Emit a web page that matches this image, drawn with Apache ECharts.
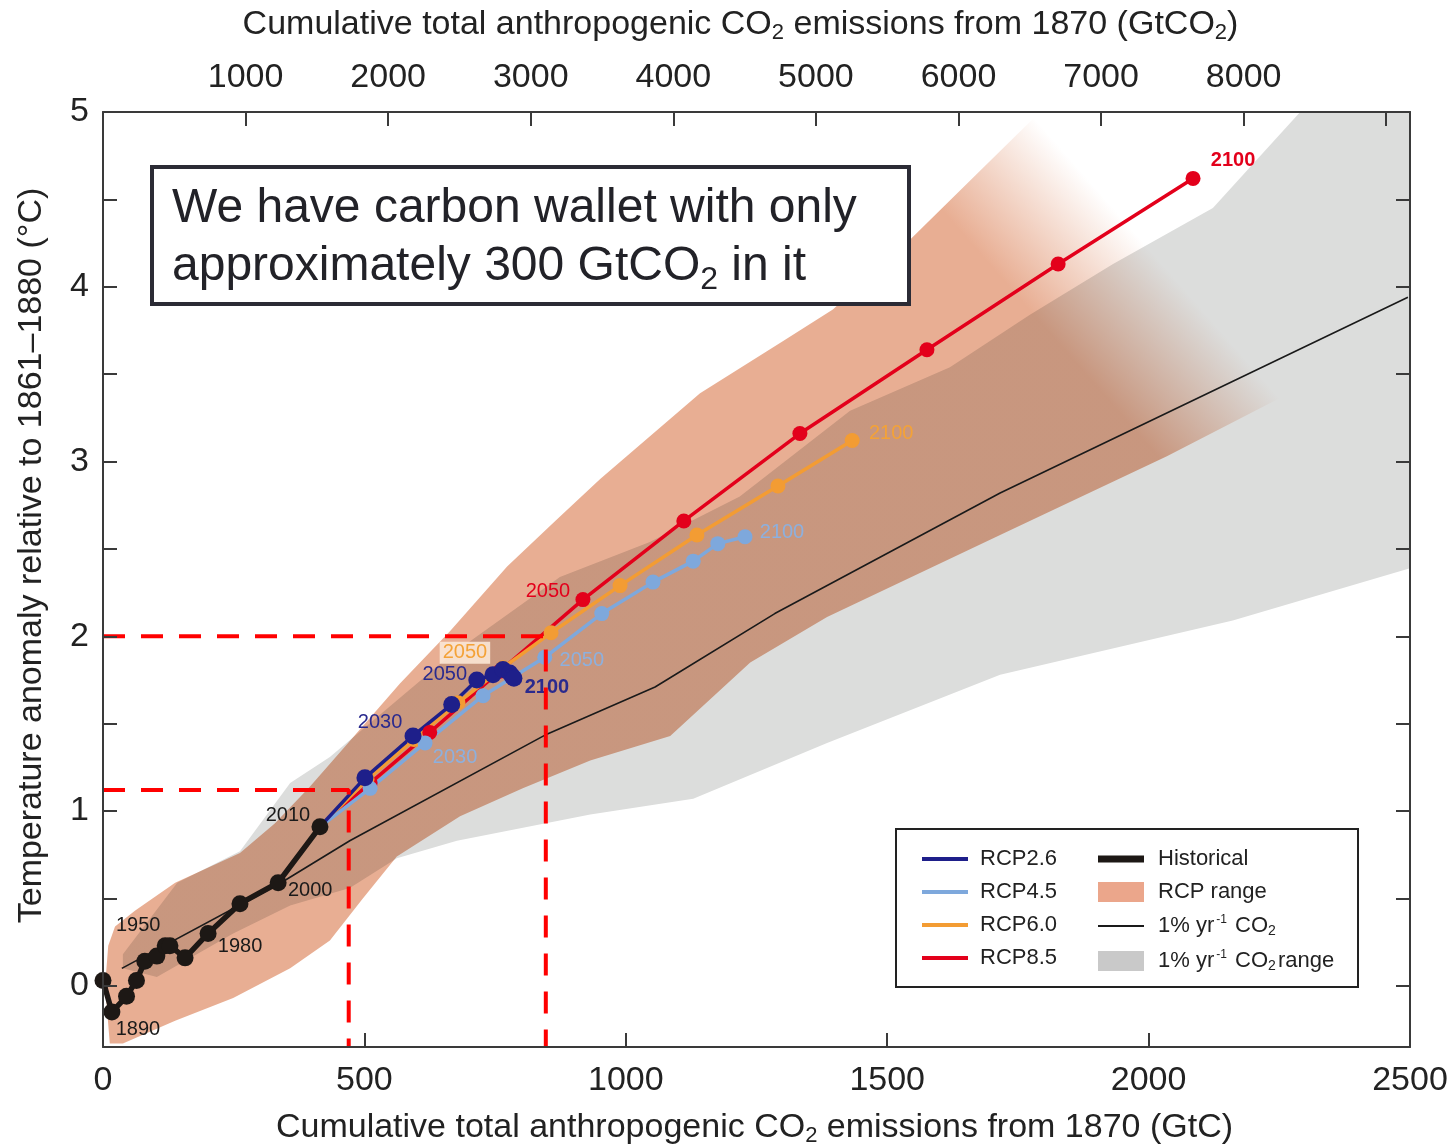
<!DOCTYPE html>
<html>
<head>
<meta charset="utf-8">
<script src="https://cdn.jsdelivr.net/npm/echarts@6/dist/echarts.min.js"></script>
<style>
  html, body { margin: 0; padding: 0; background: #fff; }
  #chart { width: 1449px; height: 1148px; }
</style>
</head>
<body>
<div id="chart"></div>
<script>
// ---- Axes ----
const gtcMin = 0, gtcMax = 2500, gtcStep = 500;
const tempMin = -0.35, tempMax = 5;
const gtco2PerGtc = 44 / 12;
const gtco2Labels = [1000, 2000, 3000, 4000, 5000, 6000, 7000, 8000];

// ---- Historical record (cumulative GtC, °C), decadal ----
const histX = [0, 17, 45, 64, 80, 103, 119, 128, 157, 201, 262, 335, 415];
const histY = [0.03, -0.15, -0.06, 0.03, 0.14, 0.17, 0.23, 0.23, 0.16, 0.30, 0.47, 0.59, 0.91];
const histLabels = ['', '1890', '', '', '', '', '1950', '', '', '1980', '', '2000', '2010'];

// ---- RCP scenarios, decadal 2020..2100 ----
const rcpYears = [2020, 2030, 2040, 2050, 2060, 2070, 2080, 2090, 2100];
const rcp26X = [501, 593, 667, 715, 746, 765, 778, 783, 786];
const rcp26Y = [1.19, 1.43, 1.61, 1.75, 1.78, 1.81, 1.79, 1.77, 1.76];
const rcp45X = [511, 616, 727, 845, 954, 1052, 1129, 1176, 1228];
const rcp45Y = [1.13, 1.39, 1.66, 1.88, 2.13, 2.31, 2.43, 2.53, 2.57];
const rcp60X = [505, 595, 679, 765, 857, 989, 1136, 1291, 1433];
const rcp60Y = [1.18, 1.41, 1.62, 1.82, 2.02, 2.29, 2.58, 2.86, 3.12];
const rcp85X = [511, 625, 759, 918, 1111, 1333, 1576, 1827, 2085];
const rcp85Y = [1.16, 1.45, 1.80, 2.21, 2.66, 3.16, 3.64, 4.13, 4.62];
const rcp26Years = [2030, 2050, 2100];
const rcp45Years = [2030, 2050, 2100];
const rcp60Years = [2050, 2100];
const rcp85Years = [2050, 2100];

// ---- 1% per year CO2 idealised runs ----
const pctX = [36, 335, 472, 849, 1056, 1285, 1716, 2496];
const pctY = [0.10, 0.58, 0.83, 1.44, 1.71, 2.13, 2.82, 3.94];

// ---- RCP range envelope ----
const rcpUpX = [13, 4, 10, 23, 61, 138, 262, 329, 396, 463, 568, 664, 773, 865, 951, 1142, 1301, 1396, 1544, 1792, 2150, 2480];
const rcpUpY = [-0.33, 0.0, 0.23, 0.34, 0.43, 0.59, 0.76, 0.93, 1.14, 1.37, 1.73, 2.03, 2.40, 2.66, 2.90, 3.39, 3.69, 3.87, 4.27, 5.0, 5.0, 3.9];
const rcpLoX = [38, 138, 249, 358, 434, 497, 562, 683, 803, 932, 1085, 1238, 1385, 1716, 2035, 2424];
const rcpLoY = [-0.33, -0.20, -0.07, 0.10, 0.26, 0.50, 0.74, 0.97, 1.13, 1.29, 1.43, 1.85, 2.11, 2.58, 3.03, 3.63];

// ---- 1% per year CO2 range envelope ----
const pctUpX = [38, 142, 262, 358, 434, 664, 874, 1046, 1218, 1429, 1620, 1773, 1932, 2123, 2290, 2500];
const pctUpY = [0.18, 0.59, 0.77, 1.16, 1.31, 1.89, 2.34, 2.54, 2.80, 3.29, 3.54, 3.84, 4.13, 4.45, 5.0, 5.0];
const pctLoX = [38, 103, 249, 358, 472, 562, 677, 932, 1129, 1385, 1716, 2161, 2500];
const pctLoY = [0.10, 0.05, 0.30, 0.46, 0.56, 0.73, 0.83, 0.98, 1.07, 1.39, 1.78, 2.09, 2.39];

// ---- Remaining budget guides ----
const nowWarming = 1.12, nowEmissions = 470;
const limitWarming = 2.0, limitEmissions = 847;

// ---- Styling ----
const FONT_N = "'Liberation Sans',Arial,sans-serif";
const FONT = "'Liberation Sans',Arial,sans-serif";
const INK = '#222222';
const C26 = '#1e1f8a', C45 = '#7ea8dc', C60 = '#f39c33', C85 = '#e3001b', CHIST = '#1d1815';
const SALMON = '#e8ae93', GREY = '#dcdddc';

const labelPlace = {
  hist: { '1890': [26, 17], '1950': [-27, -20], '1980': [32, 13], '2000': [32, 8], '2010': [-32, -11] },
  'RCP2.6': { 2030: [-33, -13], 2050: [-32, -6], 2100: [33, 9] },
  'RCP4.5': { 2030: [30, 15], 2050: [37, 3], 2100: [37, -4] },
  'RCP6.0': { 2050: [-38, -15], 2100: [39, -7] },
  'RCP8.5': { 2050: [-35, -8], 2100: [40, -18] }
};
const labelColor = { 'RCP2.6': '#2a2a8e', 'RCP4.5': '#8db0de', 'RCP6.0': '#f4a237', 'RCP8.5': '#e3001b' };
const boldLabel = { 'RCP2.6': { 2100: true }, 'RCP8.5': { 2100: true } };

function pointLabel(text, off, color, bold, extra) {
  return Object.assign({
    show: true, position: 'inside', formatter: text, offset: off,
    color: color, fontFamily: FONT_N, fontSize: 20, fontWeight: bold ? 'bold' : 'normal',
    align: 'center', verticalAlign: 'middle'
  }, extra || {});
}

function rcpSeries(name, color, xs, ys, labelled, size, z) {
  const start = { value: [histX[histX.length - 1], histY[histY.length - 1]], symbol: 'none' };
  const data = [start];
  xs.forEach(function (x, i) {
    const item = { value: [x, ys[i]] };
    const yr = rcpYears[i];
    if (labelled.indexOf(yr) >= 0) {
      const extra = (name === 'RCP6.0' && yr === 2050)
        ? { backgroundColor: 'rgba(251,231,214,0.9)', padding: [1, 3] } : null;
      item.label = pointLabel(String(yr), labelPlace[name][yr], labelColor[name],
        !!(boldLabel[name] && boldLabel[name][yr]), extra);
    }
    data.push(item);
  });
  return {
    type: 'line', name: name, data: data, z: z,
    symbol: 'circle', symbolSize: size, showAllSymbol: true,
    lineStyle: { color: color, width: 3.5 }, itemStyle: { color: color, borderWidth: 0 },
    label: { show: false }, emphasis: { disabled: true }, silent: true
  };
}

function ring(upX, upY, loX, loY) {
  const pts = upX.map(function (x, i) { return [x, upY[i]]; });
  for (let i = loX.length - 1; i >= 0; i--) pts.push([loX[i], loY[i]]);
  return pts;
}

function bandSeries(name, pts, color, z, blend, fade) {
  return {
    type: 'custom', name: name, z: z, silent: true, blendMode: blend,
    itemStyle: { color: color },
    data: [[pts[0][0], pts[0][1]]],
    encode: { x: 0, y: 1 },
    renderItem: function (params, api) {
      const screen = pts.map(function (p) { return api.coord(p); });
      let fill = color;
      if (fade) {
        const a = api.coord(fade[0]), b = api.coord(fade[1]);
        fill = new echarts.graphic.LinearGradient(a[0], a[1], b[0], b[1], [
          { offset: 0, color: fade[2] }, { offset: 1, color: fade[3] }
        ], true);
      }
      return { type: 'polygon', shape: { points: screen }, style: { fill: fill } };
    }
  };
}

const histData = histX.map(function (x, i) {
  const item = { value: [x, histY[i]] };
  const t = histLabels[i];
  if (t) item.label = pointLabel(t, labelPlace.hist[t], '#1a1a1a', false);
  return item;
});

const PCT = '1% yr-1 CO2';
const PCT_RANGE = '1% yr-1 CO2 range';
const legendText = {};
legendText[PCT] = '1% yr{sup|-1} CO{sub|2}';
legendText[PCT_RANGE] = '1% yr{sup|-1} CO{sub|2}{sp| }range';

const legendTextStyle = function (padLeft) {
  return {
    fontFamily: FONT_N, fontSize: 22, color: INK, padding: [0, 0, 0, padLeft],
    rich: {
      sup: { fontFamily: FONT_N, fontSize: 12, color: INK, verticalAlign: 'top', padding: [0, 2, 8, 2] },
      sub: { fontFamily: FONT_N, fontSize: 14, color: INK, verticalAlign: 'bottom', padding: [10, 0, 0, 0] },
      sp: { fontSize: 8 }
    }
  };
};
const lineIcon = 'path://M0,0L46,0L46,4L0,4Z';
const histIcon = 'path://M0,0L46,0L46,7L0,7Z';
const thinIcon = 'path://M0,0L46,0L46,2L0,2Z';

const axisName = function (pad) {
  return {
    fontFamily: FONT_N, fontSize: 34, color: INK, lineHeight: 38, padding: pad,
    rich: { sub: { fontFamily: FONT_N, fontSize: 22, color: INK, verticalAlign: 'bottom', lineHeight: 22 } }
  };
};
const axisLineStyle = { color: '#3a3a3a', width: 2 };
const tickStyle = { show: true, inside: true, length: 14, lineStyle: { color: '#3a3a3a', width: 2 } };
const plain = function (v) { return String(Math.round(v)); };

const chart = echarts.init(document.getElementById('chart'), null, { renderer: 'canvas' });
chart.setOption({
  backgroundColor: '#ffffff',
  animation: false,
  grid: { left: 103, right: 39, top: 112, bottom: 101, outerBoundsMode: 'none', containLabel: false },
  xAxis: [
    {
      type: 'value', position: 'bottom', min: gtcMin, max: gtcMax, interval: gtcStep, z: 10,
      axisLine: { show: true, onZero: false, lineStyle: axisLineStyle },
      axisTick: tickStyle, splitLine: { show: false },
      axisLabel: { fontFamily: FONT_N, fontSize: 34, color: INK, margin: 17, formatter: plain },
      name: 'Cumulative total anthropogenic CO{sub|2} emissions from 1870 (GtC)',
      nameLocation: 'middle', nameGap: 62, nameTextStyle: axisName([0, 4, 0, 0])
    },
    {
      type: 'value', position: 'top', min: gtcMin * gtco2PerGtc, max: gtcMax * gtco2PerGtc, interval: 1000, z: 10,
      axisLine: { show: true, onZero: false, lineStyle: axisLineStyle },
      axisTick: tickStyle, splitLine: { show: false },
      axisLabel: {
        fontFamily: FONT_N, fontSize: 34, color: INK, margin: 17, showMinLabel: false, showMaxLabel: false,
        formatter: function (v) { return gtco2Labels.indexOf(Math.round(v)) >= 0 ? String(Math.round(v)) : ''; }
      },
      name: 'Cumulative total anthropogenic CO{sub|2} emissions from 1870 (GtCO{sub|2})',
      nameLocation: 'middle', nameGap: 68, nameTextStyle: axisName([0, 32, 0, 0])
    }
  ],
  yAxis: [
    {
      type: 'value', position: 'left', min: tempMin, max: tempMax, splitNumber: 11, z: 10,
      axisLine: { show: true, onZero: false, lineStyle: axisLineStyle },
      axisTick: tickStyle, splitLine: { show: false },
      axisLabel: {
        fontFamily: FONT_N, fontSize: 34, color: INK, margin: 14,
        formatter: function (v) { return Math.abs(v - Math.round(v)) < 1e-6 ? String(Math.round(v)) : ''; }
      },
      name: 'Temperature anomaly relative to 1861–1880 (°C)',
      nameLocation: 'middle', nameRotate: 90, nameGap: 52, nameTextStyle: axisName([0, 0, 0, 48])
    },
    {
      type: 'value', position: 'right', min: tempMin, max: tempMax, splitNumber: 11, z: 10,
      axisLine: { show: true, onZero: false, lineStyle: axisLineStyle },
      axisTick: tickStyle, splitLine: { show: false }, axisLabel: { show: false }
    }
  ],
  legend: [
    {
      orient: 'vertical', left: 917, top: 843, itemWidth: 46, itemHeight: 20, itemGap: 11,
      selectedMode: false, z: 12, itemStyle: { borderWidth: 0 }, textStyle: legendTextStyle(7),
      data: [
        { name: 'RCP2.6', icon: lineIcon }, { name: 'RCP4.5', icon: lineIcon },
        { name: 'RCP6.0', icon: lineIcon }, { name: 'RCP8.5', icon: lineIcon }
      ]
    },
    {
      orient: 'vertical', left: 1093, top: 843, itemWidth: 46, itemHeight: 20, itemGap: 11,
      selectedMode: false, z: 12, itemStyle: { borderWidth: 0 }, textStyle: legendTextStyle(9),
      formatter: function (n) { return legendText[n] || n; },
      data: [
        { name: 'Historical', icon: histIcon },
        { name: 'RCP range', icon: 'rect', itemStyle: { color: '#eba68b' } },
        { name: PCT, icon: thinIcon },
        { name: PCT_RANGE, icon: 'rect', itemStyle: { color: '#c9c9c9' } }
      ]
    }
  ],
  graphic: [
    {
      type: 'rect', left: 895, top: 828, z: 11,
      shape: { width: 462, height: 158 }, style: { fill: '#ffffff', stroke: '#222222', lineWidth: 2 }
    },
    {
      type: 'rect', left: 150, top: 165, z: 20,
      shape: { width: 757, height: 137 }, style: { fill: '#ffffff', stroke: '#2b2b35', lineWidth: 4 }
    },
    {
      type: 'text', left: 172, top: 180, z: 21,
      style: {
        text: 'We have carbon wallet with only\napproximately 300 GtCO{sub|2} in it',
        fontFamily: FONT, fontSize: 48, fill: '#222228', lineHeight: 58,
        rich: { sub: { fontFamily: FONT, fontSize: 32, fill: '#222228', verticalAlign: 'bottom', lineHeight: 32 } }
      }
    }
  ],
  series: [
    bandSeries(PCT_RANGE, ring(pctUpX, pctUpY, pctLoX, pctLoY), GREY, 1, 'source-over', null),
    bandSeries('RCP range', ring(rcpUpX, rcpUpY, rcpLoX, rcpLoY), SALMON, 1, 'multiply',
      [[1871, 3.53], [2058, 4.02], 'rgba(232,174,147,1)', 'rgba(232,174,147,0)']),
    {
      type: 'line', name: PCT, z: 2, silent: true, symbol: 'none',
      data: pctX.map(function (x, i) { return [x, pctY[i]]; }),
      lineStyle: { color: '#1a1a1a', width: 1.6 }, itemStyle: { color: '#1a1a1a' }
    },
    rcpSeries('RCP8.5', C85, rcp85X, rcp85Y, rcp85Years, 15, 3),
    rcpSeries('RCP6.0', C60, rcp60X, rcp60Y, rcp60Years, 15, 3),
    rcpSeries('RCP4.5', C45, rcp45X, rcp45Y, rcp45Years, 15, 3),
    rcpSeries('RCP2.6', C26, rcp26X, rcp26Y, rcp26Years, 17, 3),
    {
      type: 'line', name: 'Historical', z: 4, silent: true, data: histData,
      symbol: 'circle', symbolSize: 17, showAllSymbol: true,
      lineStyle: { color: CHIST, width: 5.5 }, itemStyle: { color: CHIST, borderWidth: 0 },
      label: { show: false }
    },
    {
      type: 'line', name: 'budget-now', z: 6, silent: true, symbol: 'none',
      data: [[gtcMin, nowWarming], [nowEmissions, nowWarming], [nowEmissions, tempMin]],
      lineStyle: { color: '#ff0000', width: 4, type: [22, 16] }
    },
    {
      type: 'line', name: 'budget-2c', z: 6, silent: true, symbol: 'none',
      data: [[gtcMin, limitWarming], [limitEmissions, limitWarming], [limitEmissions, tempMin]],
      lineStyle: { color: '#ff0000', width: 4, type: [22, 16] }
    }
  ]
});
</script>
</body>
</html>
